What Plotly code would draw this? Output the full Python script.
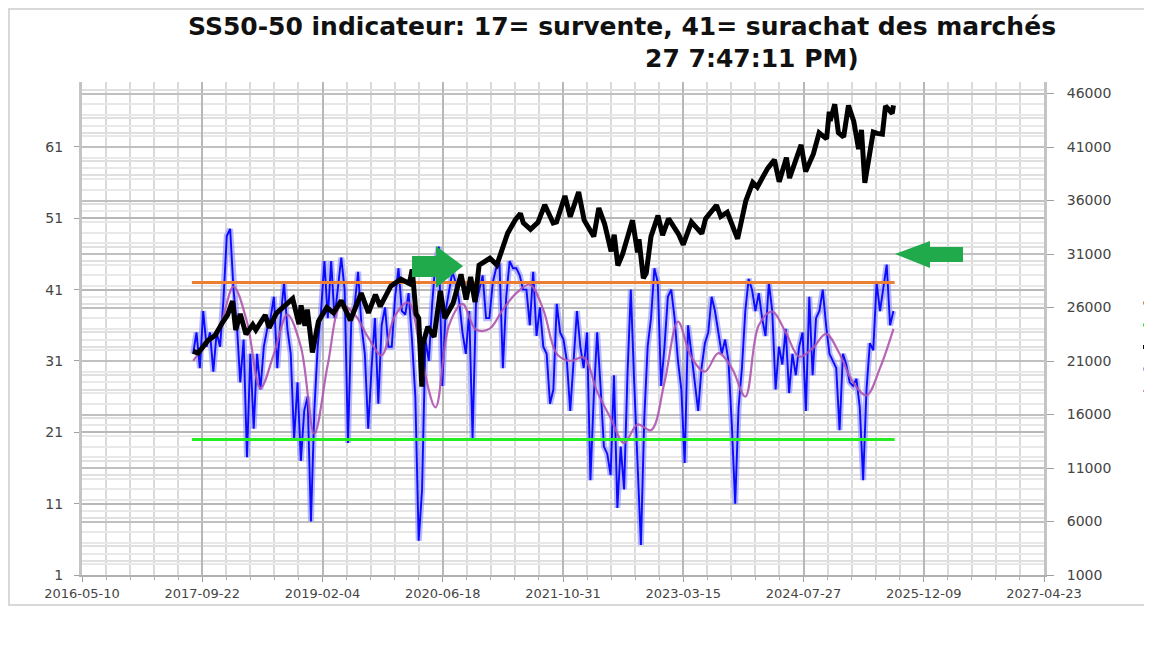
import pandas as pd
import plotly.graph_objects as go

# ---------------- data ----------------
ind_start = "2017-08-15"          # first value of the SS50-50 indicator (14-day steps)
ss5050 = [
    32, 35, 30, 38, 33, 35, 29.5, 35, 33, 39.5, 48.5, 49.5, 41, 36, 28, 34, 17.5, 32, 21.5, 32,
    27, 33, 35.5, 37, 40, 30, 37, 42, 35.5, 32, 20, 28, 17, 24, 26, 8.5, 24, 33, 38, 45,
    37, 45, 37, 41, 45.5, 41, 19.5, 37, 39, 43.5, 36, 32, 21.5, 30, 37, 25, 36, 38.5, 33, 33,
    40, 44, 38, 37.5, 40.5, 34, 26, 5.8, 13, 34, 31, 39, 45, 47, 27.5, 38, 41, 43.5, 42, 39.5,
    35, 32, 38, 20.2, 39, 41, 43, 37, 37, 42, 44, 44.7, 30, 40, 45, 44, 44, 43, 41, 41,
    36, 43.5, 34.5, 38.5, 33, 32, 25, 27, 39, 35, 34, 31, 24, 31, 38, 33, 30, 35, 14.3, 26,
    35, 27.5, 19, 18, 15, 29, 10.4, 19, 13, 29, 41, 28, 17, 5.2, 23, 33, 37, 44, 42, 27.5,
    33, 40, 41, 37, 31, 27, 16.7, 36, 32, 28, 24, 30, 33.5, 35, 40, 38, 35, 32, 34, 31,
    22, 11, 24.5, 30, 38, 42.5, 41, 38, 40.5, 37, 34.5, 42, 38, 27, 33, 30.5, 35.5, 26.5, 32, 29,
    33, 35, 24, 40, 29, 37, 38, 41, 36, 32, 31, 30, 21.3, 32, 30.5, 28, 27.5, 28.5, 24.5, 14.3,
    27, 33.5, 32.5, 42, 38, 41.5, 44.5, 36, 38,
]
ma_start = "2017-08-15"           # moving average of the indicator (56-day steps)
ss5050_ma = [
    31, 33.5, 36, 41.4, 36.5, 27.2, 32, 37.5, 33, 20.8, 30.5, 38.8, 37.5, 34.3, 31.8, 37.4, 39.2,
    31, 24.5, 36, 39, 35.4, 35.5, 38.2, 40.5, 41.7, 38.2, 32, 31, 31.5, 26.7, 23, 19.5, 22.1,
    21.3, 28, 36.5, 31.5, 29.5, 32.1, 30, 26, 36, 37.9, 35, 31.6, 32.8, 34.8, 32, 28, 26.2, 30, 35.5,
]
level_dates = ["2017-08-10", "2025-08-10"]
overbought = [42, 42]
oversold = [20, 20]

dow_dates = [
    "2017-08-15", "2017-09-05", "2017-10-15", "2017-11-15", "2017-12-15", "2018-01-05", "2018-01-26",
    "2018-02-08", "2018-02-27", "2018-03-23", "2018-04-20", "2018-05-03", "2018-06-11", "2018-06-27",
    "2018-07-27", "2018-09-20", "2018-10-03", "2018-10-29", "2018-11-07", "2018-11-23", "2018-12-03",
    "2018-12-24", "2019-01-18", "2019-02-22", "2019-03-22", "2019-04-23", "2019-05-31", "2019-07-15",
    "2019-08-14", "2019-09-12", "2019-10-02", "2019-11-15", "2019-12-27", "2020-01-31", "2020-02-12",
    "2020-02-28", "2020-03-10", "2020-03-23", "2020-03-26", "2020-04-17", "2020-05-13", "2020-06-08",
    "2020-06-26", "2020-07-31", "2020-09-02", "2020-09-23", "2020-10-12", "2020-10-30", "2020-11-16",
    "2020-12-31", "2021-01-29", "2021-03-15", "2021-04-16", "2021-05-07", "2021-05-19", "2021-06-18",
    "2021-07-19", "2021-08-16", "2021-09-20", "2021-10-04", "2021-11-08", "2021-11-30", "2022-01-04",
    "2022-01-27", "2022-02-24", "2022-03-08", "2022-03-29", "2022-04-22", "2022-05-19", "2022-06-01",
    "2022-06-16", "2022-07-06", "2022-08-16", "2022-09-06", "2022-09-12", "2022-09-30", "2022-10-12",
    "2022-11-01", "2022-11-30", "2022-12-19", "2023-01-13", "2023-02-24", "2023-03-15", "2023-04-18",
    "2023-05-31", "2023-06-16", "2023-07-31", "2023-08-18", "2023-09-14", "2023-10-27", "2023-11-30",
    "2023-12-29", "2024-01-17", "2024-02-29", "2024-03-28", "2024-04-17", "2024-05-17", "2024-05-30",
    "2024-07-17", "2024-08-05", "2024-09-06", "2024-09-30", "2024-10-31", "2024-11-11", "2024-11-15",
    "2024-12-04", "2024-12-19", "2025-01-10", "2025-01-30", "2025-02-21", "2025-03-13", "2025-03-25",
    "2025-04-08", "2025-04-24", "2025-05-13", "2025-05-30", "2025-06-20", "2025-07-03", "2025-07-31",
    "2025-08-05",
]
dow = [
    21900, 21750, 22900, 23400, 24600, 25300, 26600,
    23900, 25400, 23500, 24400, 23900, 25300, 24100,
    25450, 26650, 26830, 24450, 26200, 24300, 25800,
    21800, 24700, 26000, 25500, 26650, 24800, 27350,
    25500, 27200, 26100, 28000, 28650, 28250, 29550,
    25400, 25000, 18600, 22500, 24200, 23250, 27550,
    25000, 26400, 29100, 26750, 28850, 26500, 29950,
    30600, 29980, 32950, 34200, 34780, 33900, 33300,
    33960, 35600, 33900, 34000, 36430, 34480, 36800,
    34160, 33200, 32630, 35300, 33800, 31250, 32800,
    29930, 31000, 34150, 31150, 32380, 28730, 29200,
    32650, 34590, 32760, 34300, 32820, 31870, 33980,
    32900, 34300, 35560, 34500, 34900, 32420, 35950,
    37690, 37260, 39000, 39800, 37750, 40000, 38100,
    41200, 38700, 40350, 42330, 41760, 44290, 43450,
    45000, 42340, 41940, 44880, 43400, 40800, 42590,
    37650, 40100, 42400, 42270, 42200, 44830, 44130,
    44900,
]
x_ticks_start = "2016-05-10"
x_range = ["2016-05-10", "2027-04-23"]

title_line1 = "SS50-50 indicateur: 17= survente, 41= surachat des marchés"
title_line2 = "27 7:47:11 PM)"

# --------------- figure ---------------
ind_dates = pd.date_range(ind_start, periods=len(ss5050), freq="14D")
ma_dates = pd.date_range(ma_start, periods=len(ss5050_ma), freq="56D")

W, H = 1152, 648
OFF = 8                       # page body margin of the html page
L, R, T, B = 82, 1044, 82, 575  # plot area in screen pixels


def pp(px, py):
    """screen pixel -> paper coordinates"""
    return (px - L) / (R - L), (B - py) / (B - T)


fig = go.Figure()
fig.add_trace(go.Scatter(x=dow_dates, y=dow, name="Dow Jones", yaxis="y2", mode="lines",
                         line=dict(color="black", width=5)))
fig.add_trace(go.Scatter(x=ind_dates, y=ss5050, name="SS50-50", mode="lines",
                         line=dict(color="rgba(130,130,255,0.55)", width=6)))
fig.add_trace(go.Scatter(x=ind_dates, y=ss5050, name="SS50-50", mode="lines",
                         line=dict(color="#0a0aff", width=1.9)))
fig.add_trace(go.Scatter(x=ma_dates, y=ss5050_ma, name="Moyenne mobile", mode="lines",
                         line=dict(color="rgba(175,85,175,0.9)", width=2.2, shape="spline")))
fig.add_trace(go.Scatter(x=level_dates, y=overbought, name="41 surachat", mode="lines",
                         line=dict(color="#ed7d31", width=3)))
fig.add_trace(go.Scatter(x=level_dates, y=oversold, name="17 survente", mode="lines",
                         line=dict(color="#22ee22", width=3)))

xfont = dict(family="DejaVu Sans", size=13, color="#454545")
yfont = dict(family="DejaVu Sans", size=14, color="#454545")

fig.update_layout(
    width=W, height=H,
    margin=dict(l=L - OFF, r=W - (R - OFF), t=T - OFF, b=H - (B - OFF), autoexpand=False),
    paper_bgcolor="white", plot_bgcolor="white",
    showlegend=False,
    xaxis=dict(
        type="date", range=x_range, tickmode="linear", tick0=x_ticks_start, dtick=500 * 86400000,
        tickformat="%Y-%m-%d", tickfont=xfont,
        showgrid=True, gridcolor="#b8b8b8", gridwidth=2,
        ticks="outside", ticklen=5, tickcolor="#a0a0a0",
        showline=True, linecolor="#b0b0b0", linewidth=2, zeroline=False,
        minor=dict(tick0=x_ticks_start, dtick=100 * 86400000, showgrid=True, gridcolor="#dadada",
                   gridwidth=2, ticks="outside", ticklen=3, tickcolor="#b0b0b0"),
    ),
    yaxis=dict(
        range=[1, 70.1], tickmode="linear", tick0=1, dtick=10, tickfont=yfont,
        showgrid=True, gridcolor="#b8b8b8", gridwidth=2,
        ticks="outside", ticklen=5, tickcolor="#a0a0a0", ticklabelstandoff=8,
        showline=True, linecolor="#c4c4c4", linewidth=3, zeroline=False,
        minor=dict(tick0=1, dtick=2, showgrid=True, gridcolor="#e0e0e0", gridwidth=1.5),
    ),
    yaxis2=dict(
        overlaying="y", side="right", range=[1000, 47075], tickmode="linear", tick0=1000, dtick=5000,
        tickformat="d", tickfont=yfont,
        showgrid=True, gridcolor="#c0c0c0", gridwidth=2,
        ticks="outside", ticklen=7, tickcolor="#a0a0a0", ticklabelstandoff=10,
        showline=True, linecolor="#c4c4c4", linewidth=3, zeroline=False,
        minor=dict(tick0=1000, dtick=1000, showgrid=True, gridcolor="#e8e8e8", gridwidth=1.5),
    ),
)

# outer chart frame
x0, y0 = pp(9, 9)
x1, y1 = pp(1175, 605)
fig.add_shape(type="rect", xref="paper", yref="paper", x0=x0, y0=y1, x1=x1, y1=y0,
              line=dict(color="#d9d9d9", width=2), layer="below")

# legend keys (cropped at the right edge of the picture, as in the reference)
legend_colors = ["#ed7d31", "#22ee22", "#000000", "#9999ff", "#cc88cc"]
legend_widths = [3, 3, 4, 3, 2]
for k, (c, w) in enumerate(zip(legend_colors, legend_widths)):
    ly = 303 + 22 * k
    a0, b0 = pp(1143, ly)
    a1, _ = pp(1170, ly)
    fig.add_shape(type="line", xref="paper", yref="paper", x0=a0, y0=b0, x1=a1, y1=b0,
                  line=dict(color=c, width=w))


# green arrows
def arrow_path(points):
    return "M " + " L ".join(f"{pp(a, b)[0]:.5f},{pp(a, b)[1]:.5f}" for a, b in points) + " Z"


arrow_right = [(412, 256), (436, 256), (436, 246), (463, 266), (436, 288), (436, 277), (412, 277)]
arrow_left = [(963, 247), (930, 247), (930, 241), (895, 254), (930, 268), (930, 262), (963, 262)]
for pts in (arrow_right, arrow_left):
    fig.add_shape(type="path", xref="paper", yref="paper", path=arrow_path(pts),
                  fillcolor="#21aa4b", line=dict(color="#21aa4b", width=0))

# title (two lines)
tfont = dict(family="DejaVu Sans", size=25, color="#111111")
fig.add_annotation(xref="paper", yref="paper", x=pp(186, 0)[0], y=pp(0, 27)[1], xanchor="left",
                   yanchor="middle", text=f"<b>{title_line1}</b>", showarrow=False, font=tfont)
fig.add_annotation(xref="paper", yref="paper", x=pp(752, 0)[0], y=pp(0, 59)[1], xanchor="center",
                   yanchor="middle", text=f"<b>{title_line2}</b>", showarrow=False, font=tfont)

fig.write_html("out.html")
